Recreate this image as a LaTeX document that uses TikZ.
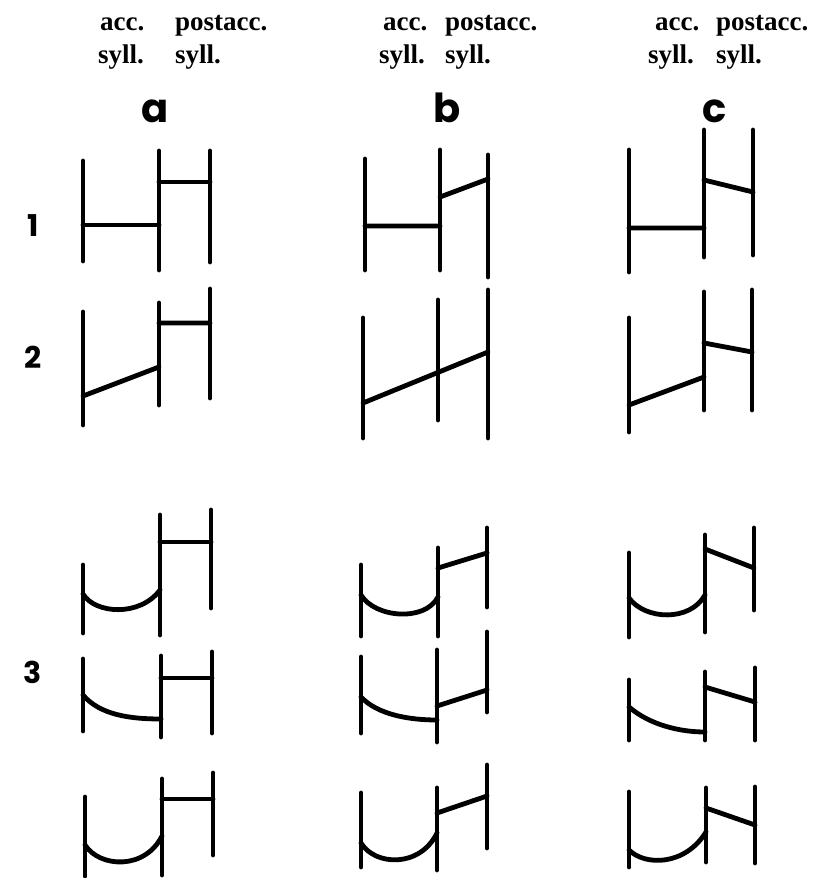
\documentclass[tikz,border=0pt]{standalone}
\usepackage{fontspec}
\setmainfont{Liberation Serif}
\newfontfamily\handfont{Poppins}
\begin{document}
\begin{tikzpicture}[x=1pt,y=-1pt,
  stroke/.style={line width=4.8pt,line cap=round,line join=round},
  head/.style={inner sep=0pt,anchor=base west,font=\fontsize{27}{27}\selectfont\bfseries},
  colletter/.style={inner sep=0pt,anchor=base,font=\fontsize{40}{40}\selectfont\handfont\bfseries},
  rownum/.style={inner sep=0pt,anchor=base,font=\fontsize{30}{30}\selectfont\handfont\bfseries}]
\useasboundingbox (0,0) rectangle (818,878);
% headers
\node[head] (aacc) at (100,30) {acc.};
\node[head] (apost) at (175,30) {postacc.};
\node[head] (asyl1) at (98,63) {syll.};
\node[head] (asyl2) at (175,63) {syll.};
\node[head] (bacc) at (383,30) {acc.};
\node[head] (bpost) at (445,30) {postacc.};
\node[head] (bsyl1) at (379,63) {syll.};
\node[head] (bsyl2) at (445,63) {syll.};
\node[head] (cacc) at (655,30) {acc.};
\node[head] (cpost) at (716,30) {postacc.};
\node[head] (csyl1) at (648,63) {syll.};
\node[head] (csyl2) at (716,63) {syll.};
\node[colletter] (la) at (155,122) {a};
\node[colletter] (lb) at (447,122) {b};
\node[colletter] (lc) at (715,122) {c};
\node[rownum] (r1) at (33,236) {1};
\node[rownum] (r2) at (33,368) {2};
\node[rownum] (r3) at (33,683) {3};
% 1a
\draw[stroke] (83,161)--(83,261) (159,151)--(159,270) (210,151)--(210,262);
\draw[stroke] (83,225)--(159,225) (159,182)--(210,182);
% 1b
\draw[stroke] (365,159)--(365,270) (440,150)--(440,270) (488,155)--(488,277);
\draw[stroke] (365,226)--(440,226) (440,197)--(488,179);
% 1c
\draw[stroke] (629,150)--(629,272) (704,130)--(704,257) (753,130)--(753,255);
\draw[stroke] (629,228)--(704,228) (704,180)--(753,192);
% 2a
\draw[stroke] (83,312)--(83,425) (159,303)--(159,405) (210,289)--(210,398);
\draw[stroke] (83,396)--(159,367) (159,323)--(210,323);
% 2b
\draw[stroke] (363,318)--(363,438) (438,300)--(438,420) (488,290)--(488,438);
\draw[stroke] (363,403)--(488,352);
% 2c
\draw[stroke] (629,318)--(629,432) (704,292)--(704,410) (752,290)--(752,410);
\draw[stroke] (629,405)--(704,377) (704,343)--(752,352);
% 3a1
\draw[stroke] (83,565)--(83,633) (160,515)--(160,635) (211,510)--(211,608);
\draw[stroke] (160,542)--(211,542);
\draw[stroke] (83,594) .. controls (95,614) and (140,617) .. (160,590);
% 3a2
\draw[stroke] (83,659)--(83,731) (161,656)--(161,737) (212,652)--(212,733);
\draw[stroke] (161,678)--(212,678);
\draw[stroke] (83,695) .. controls (100,715) and (130,719) .. (161,719);
% 3a3
\draw[stroke] (85,797)--(85,876) (162,779)--(162,875) (213,773)--(213,855);
\draw[stroke] (162,799)--(213,799);
\draw[stroke] (85,845) .. controls (100,868) and (145,870) .. (162,836);
% 3b1
\draw[stroke] (361,565)--(361,636) (438,548)--(438,636) (487,528)--(487,607);
\draw[stroke] (438,568)--(487,553);
\draw[stroke] (361,595) .. controls (375,618) and (425,622) .. (438,597);
% 3b2
\draw[stroke] (361,657)--(361,733) (437,650)--(437,742) (487,632)--(487,712);
\draw[stroke] (437,706)--(487,690);
\draw[stroke] (361,697) .. controls (378,715) and (410,720) .. (437,720);
% 3b3
\draw[stroke] (361,793)--(361,867) (437,788)--(437,870) (487,765)--(487,848);
\draw[stroke] (437,813)--(487,796);
\draw[stroke] (361,843) .. controls (375,866) and (420,868) .. (437,833);
% 3c1
\draw[stroke] (629,553)--(629,637) (705,535)--(705,632) (754,528)--(754,610);
\draw[stroke] (705,549)--(754,568);
\draw[stroke] (629,598) .. controls (645,620) and (690,622) .. (705,595);
% 3c2
\draw[stroke] (629,680)--(629,740) (705,672)--(705,740) (755,668)--(755,740);
\draw[stroke] (705,687)--(755,702);
\draw[stroke] (629,707) .. controls (650,725) and (680,732) .. (705,732);
% 3c3
\draw[stroke] (629,792)--(629,867) (706,788)--(706,862) (755,787)--(755,863);
\draw[stroke] (706,808)--(755,825);
\draw[stroke] (629,850) .. controls (645,866) and (685,866) .. (706,832);
\end{tikzpicture}
\end{document}
